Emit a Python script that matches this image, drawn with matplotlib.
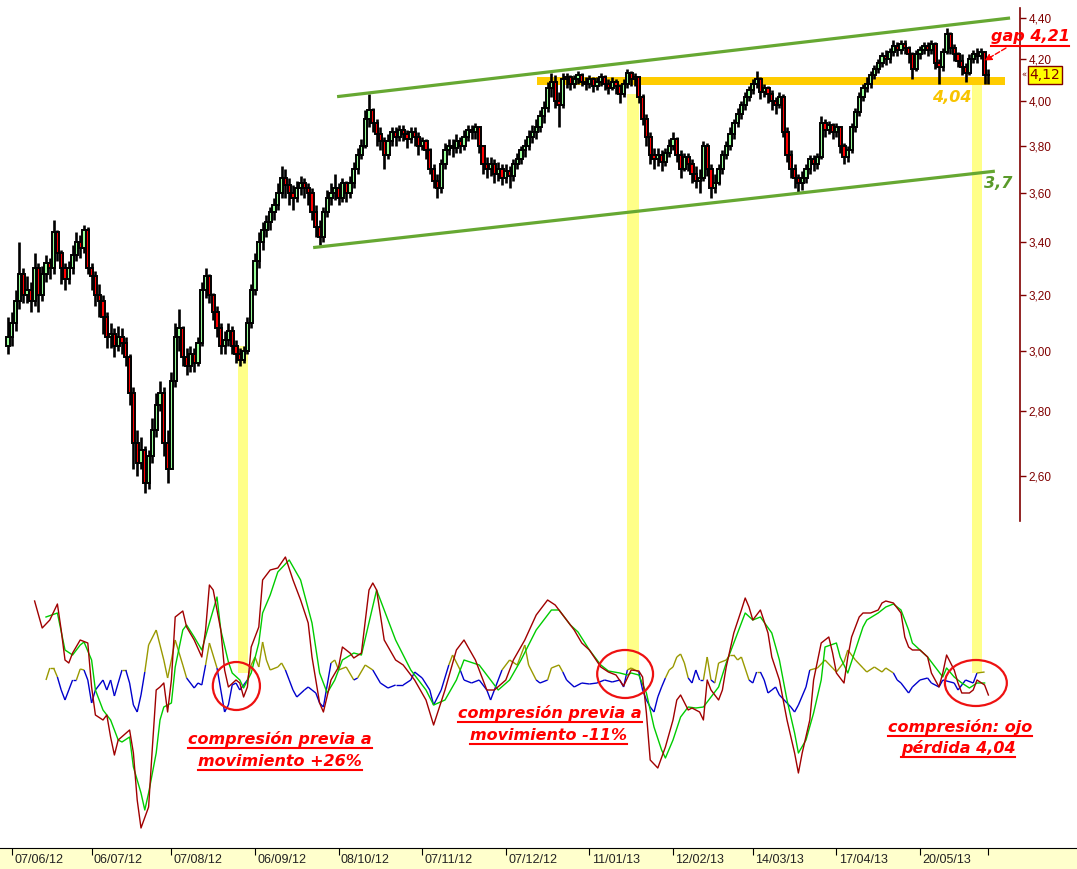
import numpy as np
import matplotlib
matplotlib.use('Agg')
import matplotlib.pyplot as plt
from matplotlib.patches import Rectangle, Ellipse
from matplotlib.lines import Line2D
from matplotlib.collections import LineCollection
from matplotlib.ticker import NullLocator
from matplotlib.transforms import IdentityTransform, blended_transform_factory

# ---- daily candles (bar 0 = first session) ----
open0 = 3.02
close = [
    3.05, 3.10, 3.18, 3.28, 3.20, 3.22, 3.18, 3.30, 3.20, 3.28,
    3.32, 3.30, 3.44, 3.36, 3.30, 3.26, 3.30, 3.35, 3.40, 3.38,
    3.45, 3.30, 3.27, 3.20, 3.18, 3.12, 3.05, 3.06, 3.02, 3.05,
    3.03, 2.98, 2.86, 2.70, 2.64, 2.68, 2.58, 2.66, 2.74, 2.82,
    2.86, 2.70, 2.62, 2.90, 3.05, 3.08, 2.98, 2.95, 2.99, 2.96,
    3.03, 3.22, 3.27, 3.20, 3.14, 3.08, 3.02, 3.04, 3.07, 3.02,
    2.99, 2.97, 3.00, 3.10, 3.22, 3.33, 3.40, 3.45, 3.48, 3.52,
    3.55, 3.60, 3.66, 3.63, 3.60, 3.58, 3.62, 3.64, 3.62, 3.60,
    3.52, 3.46, 3.42, 3.52, 3.58, 3.60, 3.62, 3.58, 3.64, 3.60,
    3.64, 3.70, 3.76, 3.80, 3.92, 3.96, 3.90, 3.85, 3.82, 3.76,
    3.82, 3.86, 3.84, 3.87, 3.85, 3.83, 3.86, 3.84, 3.80, 3.82,
    3.78, 3.70, 3.65, 3.62, 3.72, 3.78, 3.80, 3.79, 3.82, 3.80,
    3.84, 3.87, 3.86, 3.88, 3.80, 3.72, 3.70, 3.72, 3.68, 3.70,
    3.66, 3.69, 3.67, 3.72, 3.74, 3.78, 3.80, 3.84, 3.86, 3.88,
    3.93, 3.97, 4.06, 4.09, 4.00, 3.98, 4.10, 4.11, 4.08, 4.10,
    4.12, 4.09, 4.08, 4.10, 4.07, 4.09, 4.11, 4.08, 4.06, 4.09,
    4.07, 4.03, 4.08, 4.13, 4.10, 4.11, 4.02, 3.92, 3.84, 3.76,
    3.74, 3.76, 3.73, 3.77, 3.80, 3.83, 3.76, 3.70, 3.75, 3.72,
    3.68, 3.65, 3.66, 3.80, 3.70, 3.62, 3.64, 3.70, 3.76, 3.80,
    3.85, 3.90, 3.94, 3.98, 4.02, 4.05, 4.08, 4.10, 4.04, 4.06,
    4.03, 4.00, 3.98, 4.02, 3.86, 3.76, 3.70, 3.66, 3.64, 3.66,
    3.70, 3.74, 3.72, 3.75, 3.90, 3.87, 3.89, 3.86, 3.88, 3.80,
    3.75, 3.78, 3.88, 3.95, 4.02, 4.06, 4.08, 4.12, 4.15, 4.18,
    4.21, 4.20, 4.23, 4.26, 4.24, 4.27, 4.25, 4.22, 4.15, 4.22,
    4.24, 4.26, 4.24, 4.27, 4.18, 4.16, 4.23, 4.32, 4.25, 4.22,
    4.19, 4.16, 4.13, 4.20, 4.22, 4.21, 4.23, 4.12, 4.12,
]
high = [
    3.12, 3.14, 3.22, 3.40, 3.30, 3.27, 3.25, 3.36, 3.32, 3.31,
    3.35, 3.34, 3.49, 3.45, 3.37, 3.32, 3.33, 3.39, 3.44, 3.43,
    3.47, 3.46, 3.32, 3.29, 3.24, 3.20, 3.14, 3.10, 3.08, 3.09,
    3.08, 3.05, 2.99, 2.88, 2.74, 2.72, 2.69, 2.68, 2.78, 2.86,
    2.90, 2.88, 2.74, 2.93, 3.10, 3.15, 3.09, 3.01, 3.02, 3.01,
    3.05, 3.25, 3.30, 3.28, 3.21, 3.16, 3.10, 3.07, 3.10, 3.09,
    3.04, 3.01, 3.02, 3.12, 3.24, 3.36, 3.44, 3.48, 3.51, 3.54,
    3.58, 3.64, 3.71, 3.70, 3.66, 3.63, 3.65, 3.67, 3.66, 3.64,
    3.62, 3.55, 3.49, 3.54, 3.61, 3.64, 3.68, 3.64, 3.66, 3.65,
    3.67, 3.73, 3.79, 3.83, 3.96, 4.03, 3.97, 3.92, 3.88, 3.84,
    3.85, 3.88, 3.88, 3.89, 3.89, 3.87, 3.88, 3.88, 3.86, 3.84,
    3.83, 3.79, 3.72, 3.68, 3.74, 3.81, 3.83, 3.83, 3.85, 3.84,
    3.87, 3.89, 3.89, 3.90, 3.88, 3.80, 3.75, 3.75, 3.74, 3.73,
    3.72, 3.72, 3.71, 3.74, 3.77, 3.80, 3.83, 3.87, 3.89, 3.92,
    3.96, 4.00, 4.09, 4.13, 4.12, 4.04, 4.13, 4.13, 4.12, 4.12,
    4.14, 4.13, 4.11, 4.12, 4.11, 4.11, 4.13, 4.12, 4.10, 4.11,
    4.10, 4.08, 4.10, 4.15, 4.14, 4.13, 4.11, 4.03, 3.94, 3.86,
    3.79, 3.79, 3.78, 3.79, 3.83, 3.86, 3.84, 3.78, 3.77, 3.77,
    3.74, 3.71, 3.70, 3.82, 3.81, 3.72, 3.68, 3.72, 3.78, 3.82,
    3.88, 3.92, 3.97, 4.00, 4.04, 4.07, 4.10, 4.14, 4.11, 4.08,
    4.07, 4.05, 4.02, 4.04, 4.03, 3.88, 3.78, 3.72, 3.68, 3.69,
    3.72, 3.76, 3.76, 3.77, 3.93, 3.92, 3.91, 3.90, 3.90, 3.88,
    3.81, 3.80, 3.90, 3.97, 4.04, 4.08, 4.11, 4.14, 4.17, 4.20,
    4.23, 4.24, 4.25, 4.29, 4.28, 4.29, 4.29, 4.26, 4.23, 4.24,
    4.26, 4.28, 4.28, 4.29, 4.28, 4.20, 4.25, 4.35, 4.33, 4.27,
    4.23, 4.22, 4.18, 4.22, 4.24, 4.25, 4.25, 4.17, 4.15,
]
low = [
    2.99, 3.02, 3.07, 3.15, 3.17, 3.17, 3.14, 3.16, 3.14, 3.18,
    3.25, 3.26, 3.28, 3.33, 3.24, 3.22, 3.24, 3.28, 3.33, 3.34,
    3.36, 3.28, 3.22, 3.16, 3.12, 3.06, 3.01, 3.01, 2.98, 3.00,
    2.99, 2.95, 2.82, 2.62, 2.60, 2.62, 2.55, 2.56, 2.64, 2.72,
    2.80, 2.66, 2.58, 2.62, 2.88, 3.00, 2.95, 2.92, 2.93, 2.93,
    2.95, 3.02, 3.19, 3.17, 3.11, 3.05, 2.99, 2.99, 3.02, 2.99,
    2.96, 2.95, 2.96, 2.99, 3.08, 3.20, 3.30, 3.37, 3.42, 3.45,
    3.49, 3.53, 3.58, 3.58, 3.55, 3.53, 3.56, 3.59, 3.58, 3.55,
    3.49, 3.42, 3.39, 3.40, 3.50, 3.55, 3.57, 3.55, 3.56, 3.56,
    3.58, 3.62, 3.68, 3.74, 3.79, 3.88, 3.86, 3.80, 3.78, 3.70,
    3.74, 3.80, 3.80, 3.82, 3.82, 3.79, 3.81, 3.80, 3.76, 3.78,
    3.74, 3.68, 3.62, 3.58, 3.60, 3.70, 3.76, 3.75, 3.77, 3.77,
    3.78, 3.82, 3.83, 3.83, 3.77, 3.68, 3.66, 3.67, 3.64, 3.65,
    3.63, 3.64, 3.62, 3.65, 3.70, 3.72, 3.75, 3.78, 3.81, 3.83,
    3.86, 3.90, 3.95, 4.02, 3.97, 3.88, 3.97, 4.06, 4.05, 4.06,
    4.08, 4.07, 4.05, 4.06, 4.04, 4.05, 4.07, 4.05, 4.03, 4.05,
    4.03, 3.99, 4.02, 4.06, 4.07, 4.07, 3.99, 3.89, 3.80, 3.72,
    3.70, 3.71, 3.69, 3.71, 3.75, 3.78, 3.73, 3.66, 3.69, 3.69,
    3.64, 3.62, 3.60, 3.65, 3.67, 3.58, 3.60, 3.63, 3.68, 3.74,
    3.78, 3.83, 3.88, 3.92, 3.96, 4.00, 4.03, 4.06, 4.01, 4.02,
    3.99, 3.96, 3.94, 3.97, 3.84, 3.73, 3.66, 3.62, 3.60, 3.61,
    3.64, 3.68, 3.69, 3.70, 3.74, 3.84, 3.85, 3.83, 3.84, 3.77,
    3.72, 3.73, 3.77, 3.86, 3.93, 4.00, 4.04, 4.06, 4.10, 4.13,
    4.16, 4.17, 4.18, 4.21, 4.21, 4.22, 4.22, 4.18, 4.10, 4.14,
    4.20, 4.22, 4.21, 4.22, 4.15, 4.08, 4.14, 4.22, 4.22, 4.19,
    4.16, 4.12, 4.09, 4.12, 4.18, 4.18, 4.20, 4.08, 4.08,
]

# ---- lower panel oscillator, (bar, value) ----
osc = [(7, 8.9), (9, 6.2), (11, 7.0), (13, 8.6), (14, 6.0), (15, 3.0), (16, 2.7), (17, 3.7),
       (19, 5.0), (21, 4.7), (22, 0.3), (23, -2.5), (25, -3.0), (26, -2.5), (27, -4.7), (28, -6.5),
       (29, -5.0), (32, -4.0), (33, -6.3), (34, -11.0), (35, -13.8), (37, -11.7), (38, -5.7),
       (39, 0.0), (40, 0.3), (41, 0.7), (42, -2.2), (43, 1.0), (44, 7.3), (46, 7.9), (47, 6.3),
       (49, 5.0), (51, 3.3), (52, 6.0), (53, 10.5), (54, 10.0), (56, 6.0), (57, 2.0), (58, 0.3),
       (60, 1.0), (61, 0.7), (62, -0.7), (63, 0.3), (64, 4.3), (66, 6.3), (67, 11.0), (69, 12.0),
       (71, 12.2), (73, 13.3), (75, 11.0), (77, 9.0), (79, 6.7), (80, 3.3), (82, -1.3), (83, -2.2),
       (85, 1.0), (87, 2.3), (88, 4.3), (90, 3.7), (91, 3.2), (93, 3.7), (95, 10.0), (96, 10.7),
       (97, 10.0), (99, 5.0), (102, 3.0), (104, 2.5), (107, 1.0), (110, -1.0), (112, -3.5),
       (115, 0.0), (118, 4.0), (120, 5.0), (123, 3.0), (126, 0.0), (128, 0.0), (131, 1.0),
       (133, 3.0), (136, 5.0), (139, 7.5), (142, 9.0), (144, 8.5), (147, 7.0), (149, 6.0),
       (151, 4.7), (153, 4.0), (156, 2.3), (158, 1.8), (160, 1.5), (162, 0.4), (164, 2.0),
       (166, 1.9), (167, 1.3), (168, -2.3), (169, -7.0), (171, -7.8), (173, -5.7), (175, -3.0),
       (176, -1.0), (177, -0.5), (179, -2.0), (180, -1.8), (182, -2.2), (183, -3.0), (184, 1.0),
       (185, 0.0), (187, -1.0), (188, 0.0), (189, 2.3), (191, 5.7), (193, 8.0), (194, 9.2),
       (195, 8.3), (196, 7.0), (198, 8.0), (200, 5.7), (201, 3.3), (203, 1.0), (205, -3.0),
       (207, -6.3), (208, -8.3), (209, -6.3), (211, -3.0), (212, 1.0), (214, 4.7), (216, 5.3),
       (217, 3.7), (218, 1.7), (220, 0.7), (221, 3.3), (222, 5.3), (224, 7.3), (225, 7.7),
       (227, 7.7), (229, 8.0), (230, 8.7), (231, 8.9), (233, 8.7), (235, 7.7), (236, 5.3),
       (237, 4.3), (238, 4.0), (240, 4.0), (242, 3.3), (243, 1.7), (245, 0.3), (246, 1.7),
       (247, 3.5), (249, 2.0), (250, 0.7), (251, -0.3), (253, -0.3), (254, 0.0), (255, 1.0),
       (257, 0.5), (258, -0.5)]

signal = [(10, 7.3), (13, 7.7), (15, 4.0), (17, 3.5), (19, 4.5), (20, 4.8), (22, 3.0), (23, 0.0),
          (25, -2.0), (27, -3.0), (29, -5.0), (30, -5.2), (32, -4.7), (33, -7.7), (35, -10.3),
          (36, -12.0), (37, -10.3), (39, -6.3), (40, -3.0), (41, -1.7), (43, -1.3), (44, 2.3),
          (46, 6.0), (47, 6.5), (49, 5.3), (51, 4.0), (53, 6.7), (55, 9.3), (56, 6.0), (58, 2.8),
          (59, 1.7), (61, 1.0), (62, 0.2), (64, 1.7), (66, 4.7), (67, 7.7), (69, 9.5), (71, 11.8),
          (74, 13.0), (77, 11.0), (80, 6.7), (82, 1.7), (84, -0.3), (86, 1.0), (88, 3.0), (91, 3.7),
          (93, 3.5), (97, 10.0), (99, 8.0), (102, 5.0), (106, 2.0), (110, 0.0), (112, -1.5),
          (115, -1.0), (118, 1.0), (120, 3.0), (124, 2.5), (127, 1.0), (129, 0.0), (132, 1.0),
          (135, 3.0), (139, 6.0), (143, 8.0), (145, 8.0), (148, 6.5), (150, 5.8), (153, 4.0),
          (156, 2.5), (158, 1.9), (161, 1.7), (163, 1.5), (164, 1.7), (166, 1.5), (168, -0.3),
          (170, -3.7), (172, -6.0), (173, -6.8), (175, -5.0), (177, -2.7), (179, -1.7), (181, -1.8),
          (183, -1.7), (185, -0.7), (187, 0.3), (189, 2.7), (192, 5.7), (194, 7.7), (196, 7.0),
          (198, 7.3), (201, 5.7), (203, 3.0), (205, -1.0), (207, -4.3), (208, -6.3), (210, -5.0),
          (212, -2.3), (214, 1.0), (215, 4.3), (218, 4.7), (219, 3.3), (221, 1.7), (223, 4.0),
          (225, 6.3), (226, 7.0), (229, 7.7), (231, 8.3), (233, 8.6), (235, 8.0), (237, 6.0),
          (238, 4.7), (240, 4.0), (242, 3.3), (244, 2.3), (246, 1.3), (247, 2.2), (249, 1.3),
          (251, 0.7), (253, 0.2), (255, 0.7), (257, 0.7)]

# volatility line, drawn olive above the split level and blue below it
vol = [(10, 1.0), (11, 2.2), (12, 2.2), (13, 1.3), (14, 0.0), (15, -1.0), (16, 0.0), (17, 1.0),
       (18, 1.0), (19, 2.1), (20, 2.0), (21, 1.0), (22, -1.3), (23, 0.0), (25, 1.0), (26, 0.0),
       (27, 1.0), (28, -0.6), (29, 0.7), (30, 2.0), (31, 2.0), (32, 0.7), (33, -1.5), (34, -2.2),
       (35, -0.5), (36, 1.8), (37, 4.5), (39, 6.0), (40, 4.5), (41, 3.0), (42, 1.2), (43, 3.0),
       (44, 5.0), (46, 2.5), (47, 1.2), (49, 0.2), (50, 0.7), (51, 0.5), (52, 2.5), (53, 4.7),
       (55, 2.2), (56, 0.0), (57, -2.2), (58, -1.5), (59, 0.5), (60, 0.7), (61, 0.0), (62, 0.5),
       (63, 1.0), (64, 2.5), (65, 3.3), (66, 2.3), (67, 4.8), (68, 3.0), (69, 2.0), (71, 2.3),
       (72, 2.7), (73, 2.0), (74, 1.0), (75, 0.0), (76, -0.7), (78, 0.0), (79, 0.3), (80, 0.0),
       (81, -0.3), (82, -1.3), (83, -1.7), (85, 2.7), (86, 3.0), (87, 2.0), (89, 2.3), (91, 1.0),
       (92, 1.2), (94, 2.5), (96, 2.0), (98, 0.7), (100, 0.2), (102, 0.5), (104, 0.5), (106, 1.0),
       (107, 1.8), (109, 1.2), (111, 0.0), (112, -1.5), (114, 0.0), (116, 2.5), (117, 3.5),
       (119, 2.0), (120, 1.0), (122, 0.7), (124, 1.0), (126, 0.0), (127, -1.0), (128, 0.0),
       (130, 2.0), (132, 3.0), (134, 2.5), (136, 4.5), (137, 2.5), (139, 1.0), (140, 0.7),
       (142, 1.0), (143, 2.2), (145, 2.5), (146, 1.8), (147, 1.0), (149, 0.3), (151, 0.7),
       (153, 0.6), (155, 0.7), (157, 1.0), (159, 0.8), (161, 1.0), (162, 0.3), (163, 2.0),
       (164, 2.2), (165, 2.0), (166, 1.8), (167, 0.0), (168, -1.0), (169, -1.7), (170, -2.2),
       (171, -0.7), (172, 0.3), (173, 1.2), (174, 2.0), (175, 2.3), (176, 3.3), (177, 3.6),
       (178, 2.7), (179, 1.2), (180, 0.7), (181, 2.0), (182, 1.0), (183, 1.0), (184, 3.3),
       (185, 1.0), (186, 0.7), (187, 2.7), (189, 3.0), (190, 3.5), (191, 3.5), (192, 3.0),
       (193, 3.3), (195, 1.0), (196, 0.7), (197, 1.8), (198, 1.8), (199, 1.0), (200, -0.3),
       (201, 0.0), (202, 0.3), (203, -0.5), (205, -1.3), (206, -1.7), (207, -2.2), (208, -1.5),
       (210, 0.3), (211, 2.0), (213, 2.2), (215, 3.0), (217, 2.2), (218, 1.8), (220, 2.8),
       (221, 4.0), (223, 3.0), (225, 2.2), (226, 1.8), (228, 2.3), (230, 1.8), (231, 2.2),
       (233, 1.7), (234, 1.0), (235, 0.7), (237, -0.3), (238, 0.3), (240, 1.0), (242, 1.2),
       (243, 0.7), (245, 0.3), (246, 1.0), (249, 0.7), (250, 0.0), (252, 1.0), (254, 0.7),
       (255, 1.7), (257, 1.8)]
vol_split = 1.5

date_ticks = [1, 22, 43, 65, 87, 109, 131, 153, 175, 196, 218, 240, 258]
date_labels = ['07/06/12', '06/07/12', '07/08/12', '06/09/12', '08/10/12', '07/11/12',
               '07/12/12', '11/01/13', '12/02/13', '14/03/13', '17/04/13', '20/05/13', '']
price_ticks = [2.60, 2.80, 3.00, 3.20, 3.40, 3.60, 3.80, 4.00, 4.20, 4.40]
last_price = 4.12

# drawings on the chart: (bar, price) / (bar, value)
trend_hi = [(86.6, 4.02), (263.7, 4.40)]
trend_lo = [(80.3, 3.38), (259.7, 3.69)]
support = (139.2, 262.4, 4.074, 4.113)          # bar from, bar to, price lo, price hi
vbars = [(60.5, 63.2, 3.02, 1.7), (162.9, 166.1, 4.03, 2.0), (253.7, 256.3, 4.074, 1.7)]
circles = [(60.1, 0.4, 12.4, 4.8), (162.4, 1.6, 14.7, 4.8), (254.7, 0.7, 16.3, 4.6)]

# ---- layout (pixels) ----
W, H = 1077, 869
X0, DX = 8.0, 3.8          # pixel of bar 0, pixels per bar
DARK = '#800000'


def px_axes(fig, left, top, right, bottom):
    return fig.add_axes([left / W, 1 - bottom / H, (right - left) / W, (bottom - top) / H])


def bar_lim(left, right):
    return ((left - X0) / DX, (right - X0) / DX)


fig = plt.figure(figsize=(W / 100, H / 100), dpi=100)
fig.patch.set_facecolor('white')

# ---------- price panel ----------
ax = px_axes(fig, 0, 0, 1020, 550)
ax.set_yscale('log')
ax.set_xlim(*bar_lim(0, 1020))
ax.set_ylim(2.388, 4.492)
for s in ['left', 'top', 'bottom']:
    ax.spines[s].set_visible(False)
ax.spines['right'].set_color(DARK)
ax.spines['right'].set_linewidth(1.2)
ax.spines['right'].set_bounds(2.47, 4.45)
ax.yaxis.tick_right()
ax.set_yticks(price_ticks)
ax.set_yticklabels([f'{p:.2f}'.replace('.', ',') for p in price_ticks],
                   family='Liberation Sans', fontsize=8.5)
ax.yaxis.set_minor_locator(NullLocator())
ax.tick_params(axis='y', colors=DARK, length=4, width=1, pad=2)
ax.set_xticks([])

n = min(len(close), len(high), len(low))
c = np.array(close[:n])
o = np.r_[open0, c[:-1]]
hi = np.maximum(np.array(high[:n]), np.maximum(o, c))
lo = np.minimum(np.array(low[:n]), np.minimum(o, c))
idx = np.arange(n)
up = c >= o

# support band and vertical highlight bars behind candles
ax.add_patch(Rectangle((support[0], support[2]), support[1] - support[0],
                       support[3] - support[2], color='#ffcc00', lw=0, zorder=1))
ybot = ax.get_ylim()[0]
for b0, b1, ptop, _ in vbars:
    ax.add_patch(Rectangle((b0, ybot), b1 - b0, ptop - ybot, color='#ffff88', lw=0, zorder=1))

ax.vlines(idx, lo, hi, color='black', lw=1.9, zorder=3)
ax.bar(idx, np.abs(c - o), bottom=np.minimum(o, c), width=0.85,
       color=np.where(up, '#99ff99', '#ff0000'), edgecolor='black', linewidth=1.4, zorder=4)

for line in (trend_hi, trend_lo):
    xs, ys = zip(*line)
    ax.plot(xs, ys, color='#66a832', lw=2.3, solid_capstyle='butt', zorder=5)

# gap arrow
ax.annotate('', xy=(257, 4.19), xytext=(1006, H - 48), textcoords='figure pixels',
            arrowprops=dict(arrowstyle='-|>', color='red', lw=1, linestyle='--',
                            mutation_scale=10, shrinkA=0, shrinkB=0),
            annotation_clip=False, zorder=6)

# ---------- oscillator panel ----------
ax2 = px_axes(fig, 0, 550, 1020, 845)
ax2.set_xlim(*bar_lim(0, 1020))
ax2.set_ylim(-15.5, 14)
ax2.axis('off')
for b0, b1, _, vbot in vbars:
    ax2.add_patch(Rectangle((b0, vbot), b1 - b0, 14 - vbot, color='#ffff88', lw=0, zorder=1))

vb, vv = np.array(vol).T
segs = np.stack([np.column_stack([vb[:-1], vv[:-1]]), np.column_stack([vb[1:], vv[1:]])], axis=1)
mid = (vv[:-1] + vv[1:]) / 2
ax2.add_collection(LineCollection(segs, colors=np.where(mid > vol_split, '#999900', '#0000cc'),
                                  linewidths=1, zorder=3))
sb, sv = np.array(signal).T
ax2.plot(sb, sv, color='#00cc00', lw=1, zorder=4)
ob, ov = np.array(osc).T
ax2.plot(ob, ov, color='#a00000', lw=1, zorder=5)

for cx, cy, w, h in circles:
    ax2.add_patch(Ellipse((cx, cy), w, h, fill=False, ec='#ee1111', lw=1.6, zorder=6))

# ---------- date strip ----------
ax3 = px_axes(fig, 0, 848, W, H)
ax3.set_xlim(*bar_lim(0, W))
ax3.set_ylim(0, 1)
ax3.set_facecolor('#ffffcc')
for s in ['left', 'right', 'bottom']:
    ax3.spines[s].set_visible(False)
ax3.spines['top'].set_color('black')
ax3.set_yticks([])
ax3.set_xticks(date_ticks)
ax3.tick_params(axis='x', top=True, bottom=False, direction='in', length=5,
                labelbottom=False, color='black')
tr = blended_transform_factory(ax3.transData, ax3.transAxes)
for t, lab in zip(date_ticks, date_labels):
    ax3.text(t + 0.6, 0.42, lab, transform=tr, ha='left', va='center',
             family='Liberation Sans', fontsize=9, color='#222222')

# ---------- annotations ----------
def ftext(x, y, s, **kw):
    return fig.text(x / W, 1 - y / H, s, **kw)


note = dict(color='#ff0000', fontsize=11.5, weight='bold', style='italic',
            family='DejaVu Sans', ha='center', va='center')
underlined = [
    ftext(280, 739, 'compresión previa a', **note),
    ftext(280, 761, 'movimiento +26%', **note),
    ftext(550, 713, 'compresión previa a', **note),
    ftext(548, 735, 'movimiento -11%', **note),
    ftext(960, 727, 'compresión: ojo', **note),
    ftext(958, 748, 'pérdida 4,04', **note),
    ftext(1030, 37, 'gap 4,21', **note),
]
ftext(952, 98, '4,04', color='#f8c400', fontsize=11.5, weight='bold', style='italic',
      family='DejaVu Sans', ha='center', va='center')
ftext(998, 183, '3,7', color='#5a9a2a', fontsize=11.5, weight='bold', style='italic',
      family='DejaVu Sans', ha='center', va='center')
ftext(1045, 75, f'{last_price:.2f}'.replace('.', ','), color=DARK, fontsize=10,
      family='DejaVu Sans', ha='center', va='center',
      bbox=dict(boxstyle='square,pad=0.15', fc='#ffff00', ec=DARK, lw=1))
ftext(1024, 75, '«', color=DARK, fontsize=6, ha='center', va='center')

fig.canvas.draw()
for t in underlined:
    bb = t.get_window_extent()
    fig.add_artist(Line2D([bb.x0, bb.x1], [bb.y0 - 1, bb.y0 - 1], transform=IdentityTransform(),
                          color='#ff0000', lw=1.5))

fig.savefig('out.png', dpi=100)
